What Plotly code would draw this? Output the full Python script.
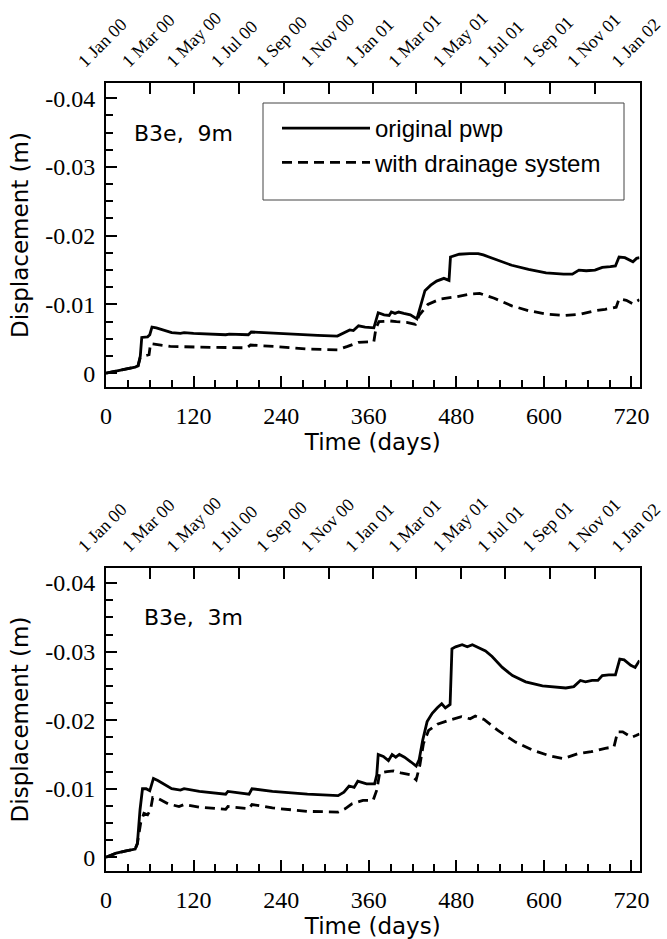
import plotly.graph_objects as go

# ---------------- data ----------------
TOP_SOLID_DAY = [0, 10, 20, 30, 40, 44, 47, 49, 57, 60, 63, 69, 80, 90, 102, 107, 120, 136, 150, 164, 169, 195, 199, 231, 260, 290, 317, 326, 334, 339, 346, 355, 367, 373, 381, 388, 391, 396, 401, 408, 417, 426, 431, 437, 445, 453, 463, 470, 472, 484, 498, 510, 517, 532, 556, 579, 603, 627, 639, 648, 658, 670, 680, 691, 698, 703, 711, 722, 727, 731]
TOP_SOLID_VAL = [0, -0.0002, -0.0004, -0.0006, -0.0009, -0.0011, -0.0025, -0.0052, -0.0053, -0.0056, -0.0067, -0.0066, -0.0062, -0.0059, -0.0058, -0.0059, -0.0058, -0.0057, -0.0057, -0.0056, -0.0057, -0.0056, -0.0060, -0.0058, -0.0057, -0.0055, -0.0054, -0.0059, -0.0063, -0.0062, -0.0069, -0.0067, -0.0066, -0.0088, -0.0085, -0.0084, -0.0089, -0.0087, -0.0089, -0.0087, -0.0085, -0.0079, -0.0096, -0.0120, -0.0128, -0.0134, -0.0138, -0.0135, -0.0169, -0.0173, -0.0174, -0.0174, -0.0172, -0.0166, -0.0157, -0.0151, -0.0146, -0.0144, -0.0144, -0.0150, -0.0149, -0.0150, -0.0154, -0.0155, -0.0156, -0.0169, -0.0168, -0.0162, -0.0167, -0.0168]

TOP_DASH_DAY = [0, 10, 20, 30, 40, 44, 47, 55, 59, 61, 69, 88, 126, 164, 193, 198, 231, 279, 317, 331, 346, 367, 370, 374, 389, 398, 412, 424, 429, 441, 458, 479, 498, 512, 532, 556, 579, 603, 627, 651, 670, 684, 699, 703, 713, 722, 731]
TOP_DASH_VAL = [0, -0.0002, -0.0004, -0.0006, -0.0009, -0.0011, -0.0023, -0.0026, -0.0027, -0.0043, -0.0042, -0.0039, -0.0038, -0.0037, -0.0037, -0.0041, -0.0039, -0.0035, -0.0034, -0.0039, -0.0045, -0.0046, -0.0066, -0.0075, -0.0076, -0.0075, -0.0074, -0.0071, -0.0084, -0.0100, -0.0108, -0.0111, -0.0115, -0.0116, -0.0109, -0.0098, -0.0091, -0.0086, -0.0084, -0.0086, -0.0091, -0.0093, -0.0096, -0.0108, -0.0106, -0.0101, -0.0107]

BOT_SOLID_DAY = [0, 14, 26, 40, 43, 46.6, 50, 55, 60, 65, 71, 90, 102, 107, 128, 164, 167, 196, 200, 228, 276, 318, 326, 333, 340, 345, 357, 368, 371, 373, 380, 387, 392, 397, 402, 409, 418, 425, 429, 434, 440, 447, 454, 460, 465, 471.5, 474, 479, 488, 495, 502, 508, 520, 529, 543, 557, 575, 598, 630, 641, 650, 657, 666, 674, 680, 689, 698, 704, 710, 719, 725, 731]
BOT_SOLID_VAL = [0, -0.0006, -0.0009, -0.0012, -0.0020, -0.0069, -0.0100, -0.0100, -0.0097, -0.0115, -0.0112, -0.0100, -0.0098, -0.0100, -0.0096, -0.0092, -0.0096, -0.0092, -0.0100, -0.0096, -0.0092, -0.0090, -0.0095, -0.0104, -0.0102, -0.0111, -0.0107, -0.0107, -0.0120, -0.0150, -0.0147, -0.0141, -0.0150, -0.0146, -0.0150, -0.0146, -0.0139, -0.0133, -0.0142, -0.0171, -0.0198, -0.0210, -0.0218, -0.0224, -0.0218, -0.0223, -0.0304, -0.0307, -0.0310, -0.0307, -0.0310, -0.0307, -0.0301, -0.0293, -0.0277, -0.0265, -0.0256, -0.0250, -0.0247, -0.0249, -0.0258, -0.0256, -0.0258, -0.0258, -0.0265, -0.0266, -0.0266, -0.0289, -0.0288, -0.0280, -0.0277, -0.0287]

BOT_DASH_DAY = [0, 14, 26, 40, 43, 47.5, 52, 57, 61, 64, 71, 85, 100, 107, 128, 164, 167, 196, 200, 228, 276, 318, 328, 337, 352, 366, 371, 375, 385, 394, 404, 418, 425, 430, 435, 442, 454, 470, 487, 499, 506, 518, 537, 561, 585, 608, 627, 646, 665, 684, 696, 701, 708, 720, 727, 731]
BOT_DASH_VAL = [0, -0.0006, -0.0009, -0.0012, -0.0020, -0.0050, -0.0064, -0.0062, -0.0069, -0.0087, -0.0086, -0.0078, -0.0074, -0.0077, -0.0073, -0.0070, -0.0074, -0.0071, -0.0077, -0.0072, -0.0067, -0.0066, -0.0071, -0.0078, -0.0083, -0.0083, -0.0098, -0.0123, -0.0125, -0.0126, -0.0123, -0.0120, -0.0113, -0.0134, -0.0166, -0.0185, -0.0194, -0.0200, -0.0205, -0.0202, -0.0206, -0.0201, -0.0185, -0.0168, -0.0156, -0.0148, -0.0144, -0.0151, -0.0154, -0.0159, -0.0161, -0.0183, -0.0183, -0.0175, -0.0178, -0.0180]

SERIES_NAMES = ["original pwp", "with drainage system"]
PANEL_LABELS = ["B3e,  9m", "B3e,  3m"]

X_TICKS = [0, 120, 240, 360, 480, 600, 720]
Y_TICKS = [0, -0.01, -0.02, -0.03, -0.04]
Y_TICK_TEXT = ["0", "-0.01", "-0.02", "-0.03", "-0.04"]
DATE_DAYS = [0, 60, 121, 182, 244, 305, 366, 425, 486, 547, 609, 670, 731]
DATE_TEXT = ["1 Jan 00", "1 Mar 00", "1 May 00", "1 Jul 00", "1 Sep 00", "1 Nov 00",
             "1 Jan 01", "1 Mar 01", "1 May 01", "1 Jul 01", "1 Sep 01", "1 Nov 01", "1 Jan 02"]

X_RANGE = [0, 731]
Y_RANGE = [0.002, -0.0422]

# ---------------- layout constants ----------------
W, H = 667, 939
XDOM = [106 / W, 639.5 / W]
TOP_DOM = [1 - 387 / H, 1 - 83 / H]
BOT_DOM = [1 - 871 / H, 1 - 568 / H]

SERIF = "Liberation Serif"
SANS_T = "DejaVu Sans"
SANS_L = "Liberation Sans"

fig = go.Figure()

line_solid = dict(color="black", width=2.8)
line_dash = dict(color="black", width=2.8, dash="10px,6px")

fig.add_trace(go.Scatter(x=TOP_SOLID_DAY, y=TOP_SOLID_VAL, mode="lines", line=line_solid,
                         name=SERIES_NAMES[0], legendgroup="a", xaxis="x", yaxis="y"))
fig.add_trace(go.Scatter(x=TOP_DASH_DAY, y=TOP_DASH_VAL, mode="lines", line=line_dash,
                         name=SERIES_NAMES[1], legendgroup="b", xaxis="x", yaxis="y"))
fig.add_trace(go.Scatter(x=BOT_SOLID_DAY, y=BOT_SOLID_VAL, mode="lines", line=line_solid,
                         name=SERIES_NAMES[0], showlegend=False, xaxis="x3", yaxis="y2"))
fig.add_trace(go.Scatter(x=BOT_DASH_DAY, y=BOT_DASH_VAL, mode="lines", line=line_dash,
                         name=SERIES_NAMES[1], showlegend=False, xaxis="x3", yaxis="y2"))


def xbottom(anchor):
    return dict(
        domain=XDOM, anchor=anchor, range=X_RANGE, tickmode="array", tickvals=X_TICKS,
        ticks="inside", ticklen=11, tickwidth=1.5, tickcolor="black",
        minor=dict(dtick=30, tick0=0, ticks="inside", ticklen=7, tickwidth=1.5, tickcolor="black"),
        showline=True, linewidth=2, linecolor="black", showgrid=False, zeroline=False,
        tickfont=dict(family=SERIF, size=24, color="black"), ticklabelstandoff=6,
        title=dict(text="Time (days)", font=dict(family=SANS_T, size=23, color="black"), standoff=0),
        automargin=False,
    )


def xtop(anchor, overlay):
    return dict(
        domain=XDOM, anchor=anchor, overlaying=overlay, side="top", range=X_RANGE,
        tickmode="array", tickvals=DATE_DAYS, ticktext=DATE_TEXT, tickangle=-45,
        ticks="inside", ticklen=11, tickwidth=1.5, tickcolor="black",
        showline=True, linewidth=2, linecolor="black", showgrid=False, zeroline=False,
        tickfont=dict(family=SERIF, size=18, color="black"), ticklabelshift=-27,
        ticklabelstandoff=3, ticklabeloverflow="allow", automargin=False,
    )


def yaxis(anchor, domain):
    return dict(
        domain=domain, anchor=anchor, range=Y_RANGE, tickmode="array", tickvals=Y_TICKS,
        ticktext=Y_TICK_TEXT, ticks="inside", ticklen=11, tickwidth=1.5, tickcolor="black",
        minor=dict(dtick=0.0025, tick0=0, ticks="inside", ticklen=7, tickwidth=1.5, tickcolor="black"),
        showline=True, mirror=True, linewidth=2, linecolor="black", showgrid=False, zeroline=False,
        tickfont=dict(family=SERIF, size=24, color="black"), ticklabelstandoff=4,
        title=dict(text="Displacement (m)", font=dict(family=SANS_T, size=23, color="black"), standoff=10),
        automargin=False,
    )


fig.update_layout(
    width=W, height=H, margin=dict(l=0, r=0, t=0, b=0),
    paper_bgcolor="white", plot_bgcolor="white",
    xaxis=xbottom("y"), xaxis2=xtop("y", "x"),
    xaxis3=xbottom("y2"), xaxis4=xtop("y2", "x3"),
    yaxis=yaxis("x", TOP_DOM), yaxis2=yaxis("x3", BOT_DOM),
    showlegend=True,
    legend=dict(x=277 / W, y=1 - 106 / H, xanchor="left", yanchor="top",
                bgcolor="rgba(0,0,0,0)", borderwidth=0,
                font=dict(family=SANS_L, size=24, color="black"),
                itemwidth=88, tracegroupgap=13, traceorder="normal"),
    shapes=[dict(type="rect", xref="paper", yref="paper",
                 x0=263 / W, x1=624 / W, y0=1 - 200 / H, y1=1 - 103 / H,
                 line=dict(color="#444", width=1))],
    annotations=[
        dict(text=PANEL_LABELS[0], xref="x", yref="y", x=36, y=-0.0348, xanchor="left",
             yanchor="middle", showarrow=False, font=dict(family=SANS_T, size=22, color="black")),
        dict(text=PANEL_LABELS[1], xref="x3", yref="y2", x=50, y=-0.0350, xanchor="left",
             yanchor="middle", showarrow=False, font=dict(family=SANS_T, size=22, color="black")),
    ],
)

# invisible anchor traces so the top (date) axes are drawn
fig.add_trace(go.Scatter(x=[None], y=[None], xaxis="x2", yaxis="y", showlegend=False, hoverinfo="skip"))
fig.add_trace(go.Scatter(x=[None], y=[None], xaxis="x4", yaxis="y2", showlegend=False, hoverinfo="skip"))

fig.write_html("out.html")
